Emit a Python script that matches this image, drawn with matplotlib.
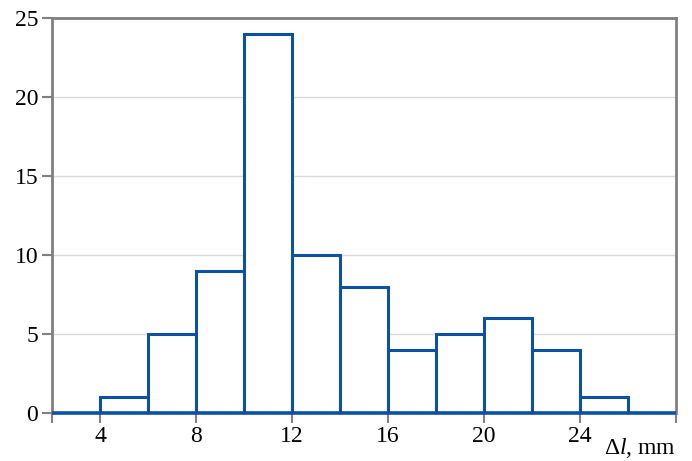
import matplotlib.pyplot as plt
import numpy as np

plt.rcParams['font.family'] = ['Liberation Serif', 'DejaVu Serif']
plt.rcParams['mathtext.fontset'] = 'custom'
plt.rcParams['mathtext.rm'] = 'Liberation Serif'
plt.rcParams['mathtext.it'] = 'Liberation Serif:italic'

# bin edges (mm) and counts per bin
edges = [2, 4, 6, 8, 10, 12, 14, 16, 18, 20, 22, 24, 26, 28]
counts = [0, 1, 5, 9, 24, 10, 8, 4, 5, 6, 4, 1, 0]
xticks = [4, 8, 12, 16, 20, 24]
yticks = [0, 5, 10, 15, 20, 25]

blue = '#0b52a3'
gray = '#808080'

fig = plt.figure(figsize=(6.92, 4.61), dpi=100)
ax = fig.add_axes([52 / 692, 1 - 413 / 461, 624 / 692, 395 / 461])

ax.bar(edges[:-1], counts, width=2, align='edge', facecolor='white',
       edgecolor=blue, linewidth=2.2, zorder=3)
ax.plot([edges[0], edges[-1]], [0, 0], color=blue, linewidth=2.6, zorder=4,
        solid_capstyle='butt', clip_on=False)

ax.set_xlim(edges[0], edges[-1])
ax.set_ylim(0, 25)
ax.set_xticks([2] + xticks + [28])
ax.set_xticklabels([''] + [str(t) for t in xticks] + [''])
ax.set_yticks(yticks)
ax.yaxis.grid(True, color='#d9d9d9', linewidth=1)
ax.set_axisbelow(True)

for side in ['left', 'right', 'top']:
    ax.spines[side].set_color(gray)
    ax.spines[side].set_linewidth(2)
ax.spines['bottom'].set_visible(False)
ax.tick_params(axis='both', colors=gray, width=1.5, length=7,
               labelcolor='black', labelsize=17)
ax.tick_params(axis='x', pad=2)
ax.tick_params(axis='y', pad=3)

fig.text(640 / 692, 1 - 448 / 461, r'$\Delta\mathit{l}$, mm', fontsize=17,
         ha='center', va='center')

fig.savefig('out.png', dpi=100)
